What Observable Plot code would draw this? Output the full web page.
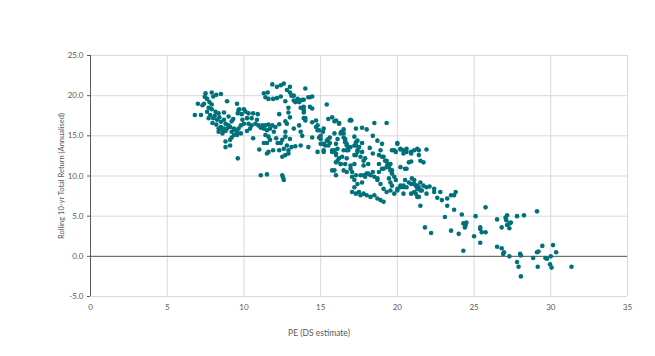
<!DOCTYPE html>
<html>
<head>
<meta charset="utf-8">
<script src="https://cdn.jsdelivr.net/npm/d3@7"></script>
<script src="https://cdn.jsdelivr.net/npm/@observablehq/plot@0.6"></script>
<style>
  html, body { margin: 0; padding: 0; background: #ffffff; }
  #chart { width: 655px; height: 356px; }
</style>
</head>
<body>
<div id="chart"></div>
<script>
// [PE, rolling 10-yr total return]
const groupA = [[6.8,17.6],[7.2,17.6],[7.0,19.0],[7.3,18.8],[7.4,19.0],[7.5,20.3],[7.9,20.4],[8.2,20.1],[8.5,20.2],[7.45,19.85],[7.6,19.6],[7.75,19.2],[7.9,18.9],[7.7,18.5],[7.9,18.3],[8.15,18.0],[8.35,17.8],[7.6,18.0],[7.8,17.6],[8.0,17.2],[7.7,17.2],[8.25,17.0],[8.5,16.75],[8.7,17.0],[8.8,16.5],[8.7,17.9],[8.9,19.3],[8.35,15.9],[8.5,16.1],[8.6,15.7],[8.7,15.9],[8.9,15.9],[9.0,16.3],[9.1,16.1],[9.2,15.5],[9.35,15.9],[9.45,15.7],[9.55,15.5],[9.65,15.9],[9.35,15.1],[9.55,15.1],[8.35,15.5],[8.6,15.3],[8.8,15.6],[8.8,14.3],[9.1,14.5],[9.2,14.8],[8.8,13.6],[9.1,13.8],[9.6,12.2],[9.7,18.3],[10.0,18.3],[9.6,17.8],[9.85,17.7],[10.1,18.0],[10.3,17.8],[10.6,17.8],[10.9,17.7],[10.5,17.2],[10.2,17.2],[9.9,17.0],[10.3,16.5],[10.0,16.5],[9.8,16.3],[10.75,16.5],[10.95,16.3],[10.5,16.3],[10.85,17.0],[10.4,15.9],[10.6,14.7],[9.55,19.0],[9.65,18.2],[8.0,19.9],[8.1,17.5],[8.4,17.3],[9.0,17.4],[9.3,17.1],[8.2,16.4],[7.95,16.6],[9.2,16.8],[9.8,15.3],[10.2,15.6]];
const groupB = [[11.2,16.3],[11.4,16.3],[11.6,16.4],[11.85,16.3],[12.05,16.1],[12.3,16.45],[11.3,15.9],[11.5,15.7],[11.7,15.9],[11.1,16.0],[11.95,15.5],[11.0,13.3],[12.3,17.7],[12.7,16.8],[12.8,16.5],[12.7,15.5],[12.7,14.9],[12.5,14.5],[11.4,15.1],[11.6,14.9],[11.3,14.1],[11.5,14.1],[11.7,14.5],[12.1,14.7],[12.2,14.1],[12.4,14.1],[11.9,13.2],[12.3,13.2],[12.6,13.4],[11.6,13.0],[11.5,12.8],[12.5,12.4],[12.7,12.6],[11.1,10.1],[11.5,10.2],[12.5,10.1],[12.55,9.8],[12.6,9.5],[11.3,20.3],[11.55,20.4],[11.85,21.4],[12.15,21.1],[12.4,21.3],[12.6,21.5],[12.8,20.7],[13.0,20.4],[13.25,20.0],[13.5,19.6],[13.7,19.4],[13.9,19.5],[14.0,20.9],[14.2,19.8],[11.4,19.8],[11.6,19.6],[11.9,19.6],[12.15,19.7],[13.25,19.4],[13.35,19.2],[13.0,21.1],[12.4,19.9],[12.7,19.3],[13.1,20.0],[13.6,19.4],[13.8,19.5],[14.3,19.8],[14.45,19.9],[13.6,19.2],[13.9,18.6],[13.9,18.2],[14.3,18.6],[14.45,18.4],[15.4,18.9],[12.9,18.5],[12.9,17.9],[13.0,17.3],[13.7,18.5],[13.9,17.9],[14.0,17.2],[13.9,17.2],[14.0,16.9],[14.45,16.7],[14.7,16.1],[14.8,15.7],[13.25,15.9],[13.6,16.3],[13.7,15.5],[13.8,15.0],[13.0,14.6],[13.1,13.6],[13.35,13.7],[13.7,13.8],[12.9,12.8],[14.45,14.8],[14.9,14.8],[15.0,14.6],[15.6,14.8],[15.5,17.1],[15.75,17.3],[16.0,16.9],[14.8,13.0],[15.2,13.0],[15.0,14.0],[15.3,13.8],[14.7,16.9],[14.8,16.3],[14.9,15.7],[15.0,15.0],[15.2,15.9],[15.4,14.4],[15.5,13.8],[15.75,13.2],[16.0,12.8],[15.9,16.8],[15.15,15.5],[15.1,14.0],[15.5,14.6],[15.6,14.1],[15.9,15.3],[15.75,13.0],[16.0,12.6],[15.9,13.2],[16.0,11.7],[15.75,10.7],[16.0,10.1],[15.9,10.7],[15.2,14.0],[15.2,13.2],[14.2,13.6],[12.8,13.8],[12.9,13.2]];
const groupC = [[16.2,16.5],[16.95,17.0],[17.3,15.9],[17.7,16.0],[18.5,16.6],[16.2,16.6],[16.9,16.9],[17.0,16.9],[16.2,12.2],[16.3,11.5],[16.5,15.3],[16.6,14.6],[16.7,14.0],[16.8,13.6],[16.5,13.2],[16.4,12.4],[16.7,12.2],[16.6,11.5],[16.95,11.3],[17.2,12.6],[17.3,13.8],[17.4,14.4],[17.5,13.6],[17.7,13.0],[17.9,12.2],[18.1,11.5],[17.8,11.3],[17.05,10.5],[17.3,10.1],[17.6,10.1],[17.9,9.9],[18.1,10.3],[18.4,10.5],[19.0,12.4],[19.2,11.9],[19.45,11.5],[19.1,10.9],[18.8,10.5],[18.5,9.9],[18.7,9.7],[17.05,8.0],[17.3,7.8],[17.5,8.0],[17.6,7.6],[17.8,7.8],[18.0,7.6],[18.25,7.4],[18.5,7.6],[18.7,7.2],[18.9,7.0],[19.1,6.8],[17.2,8.6],[17.4,9.0],[17.7,9.2],[17.2,9.5],[17.05,9.9],[17.8,10.1],[18.0,10.3],[18.25,10.1],[18.7,9.5],[18.9,9.0],[19.1,8.4],[19.3,8.0],[19.55,8.2],[19.8,7.8],[20.0,8.4],[20.2,8.6],[20.4,8.8],[20.6,8.6],[20.9,9.0],[21.1,9.5],[21.3,8.8],[20.4,7.8],[20.9,7.8],[21.1,8.0],[21.3,7.4],[21.5,8.2],[18.7,14.4],[18.9,13.2],[18.8,12.6],[19.1,12.4],[19.3,11.9],[19.55,11.5],[19.65,10.7],[19.3,11.1],[19.8,13.2],[20.0,14.0],[20.2,13.4],[20.4,13.2],[20.6,13.4],[20.9,12.8],[20.75,11.7],[20.5,10.9],[19.0,10.9],[18.8,11.5],[17.8,11.9],[17.6,12.4],[17.4,13.0],[17.2,13.8],[16.8,13.2],[16.1,11.9],[16.3,11.5],[16.5,10.7],[16.7,10.5],[16.95,10.9],[16.1,14.6],[16.3,15.3],[16.6,14.2],[20.0,14.1],[19.65,13.2],[19.9,13.0],[20.2,13.3],[20.4,12.8],[20.6,13.0],[20.9,13.0],[21.1,13.2],[21.3,13.4],[21.4,13.2],[21.9,13.3],[21.4,12.6],[21.5,11.9],[21.7,11.7],[20.9,11.8],[19.35,11.5],[19.45,11.1],[19.55,10.7],[19.65,10.3],[19.8,9.9],[19.45,9.7],[19.55,9.2],[19.65,8.8],[19.9,9.5],[20.0,8.2],[20.2,8.8],[20.4,8.6],[20.6,10.9],[20.2,11.1],[20.5,9.5],[20.75,9.2],[20.95,9.7],[21.1,9.0],[21.2,8.8],[21.3,8.4],[21.4,8.6],[21.5,9.2],[21.6,8.2],[21.7,8.8],[21.9,7.8],[21.2,7.8],[21.4,7.4],[21.5,6.3],[21.9,8.6],[21.8,3.6],[16.35,15.5],[16.5,15.8],[16.5,14.8],[16.6,14.4],[16.7,13.8],[16.7,13.2],[16.95,13.6],[17.2,14.9],[17.3,14.2],[17.4,13.2],[17.5,13.6],[17.2,11.5],[17.3,12.6],[17.7,14.1],[16.0,14.0],[16.1,13.4],[18.4,15.0],[18.0,15.8],[19.3,16.6],[19.0,14.0],[18.2,13.5],[18.4,12.8]];
const groupD = [[22.4,8.4],[22.4,8.0],[22.8,8.0],[22.9,7.0],[23.25,7.2],[23.25,6.3],[23.5,7.6],[23.7,7.6],[23.8,8.0],[23.7,5.8],[23.1,4.9],[24.2,5.2],[24.3,4.1],[24.45,3.9],[25.1,5.0],[22.2,2.9],[23.5,3.2],[24.0,2.8],[25.0,2.5],[25.4,3.4],[25.5,3.0],[25.75,6.1],[25.4,3.6],[25.75,3.0],[25.4,1.7],[26.5,4.6],[26.8,3.6],[27.05,4.8],[27.15,5.1],[27.1,4.5],[27.3,4.1],[27.4,4.2],[27.3,3.5],[27.15,3.9],[27.8,5.0],[28.25,5.1],[29.1,5.6],[26.5,1.2],[26.8,1.0],[26.9,0.3],[26.95,0.5],[27.3,0.0],[28.0,0.3],[28.05,0.1],[27.8,-0.7],[27.9,-1.3],[28.05,-2.5],[28.85,-0.2],[29.1,0.5],[29.2,0.6],[29.45,1.3],[29.15,-1.3],[29.65,-0.2],[29.75,-0.3],[30.0,0.0],[29.95,-1.0],[30.05,-1.4],[30.15,1.4],[30.35,0.5],[31.35,-1.3],[24.3,0.7],[24.4,3.6],[24.5,4.2],[22.1,8.7],[22.6,7.3]];

const xTicks = [0, 5, 10, 15, 20, 25, 30, 35];
const yTicks = [-5, 0, 5, 10, 15, 20, 25];
const xLabel = "PE (DS estimate)";
const yLabel = "Rolling 10-yr Total Return (Annualised)";

const data = [...groupA, ...groupB, ...groupC, ...groupD].map(([pe, ret]) => ({pe, ret}));

const chart = Plot.plot({
  width: 655,
  height: 356,
  marginLeft: 90,
  marginRight: 28,
  marginTop: 55,
  marginBottom: 60,
  style: {fontFamily: "Lato, 'Open Sans', sans-serif", fontSize: "8px", color: "#595959", background: "#ffffff"},
  x: {domain: [0, 35]},
  y: {domain: [-5, 25]},
  marks: [
    Plot.gridX(xTicks.filter(d => d > 0), {stroke: "#d9d9d9", strokeOpacity: 1}),
    Plot.gridY(yTicks, {stroke: "#d9d9d9", strokeOpacity: 1}),
    Plot.ruleY([0], {stroke: "#595959"}),
    Plot.ruleX([0], {stroke: "#595959"}),
    Plot.axisY(yTicks, {tickFormat: d => d.toFixed(1), tickSize: 3, tickPadding: 4, label: null}),
    Plot.axisX(xTicks, {tickSize: 0, tickPadding: 8, label: null}),
    Plot.dot(data, {x: "pe", y: "ret", r: 2.3, fill: "#00717b"}),
    Plot.text([xLabel], {frameAnchor: "bottom", textAnchor: "middle", dx: -40, dy: 39, fontSize: 8.5, fill: "#595959"}),
    Plot.text([yLabel], {frameAnchor: "left", textAnchor: "middle", dx: -29, rotate: -90, fontSize: 7.5, fill: "#595959"})
  ]
});
document.getElementById("chart").appendChild(chart);
</script>
</body>
</html>
